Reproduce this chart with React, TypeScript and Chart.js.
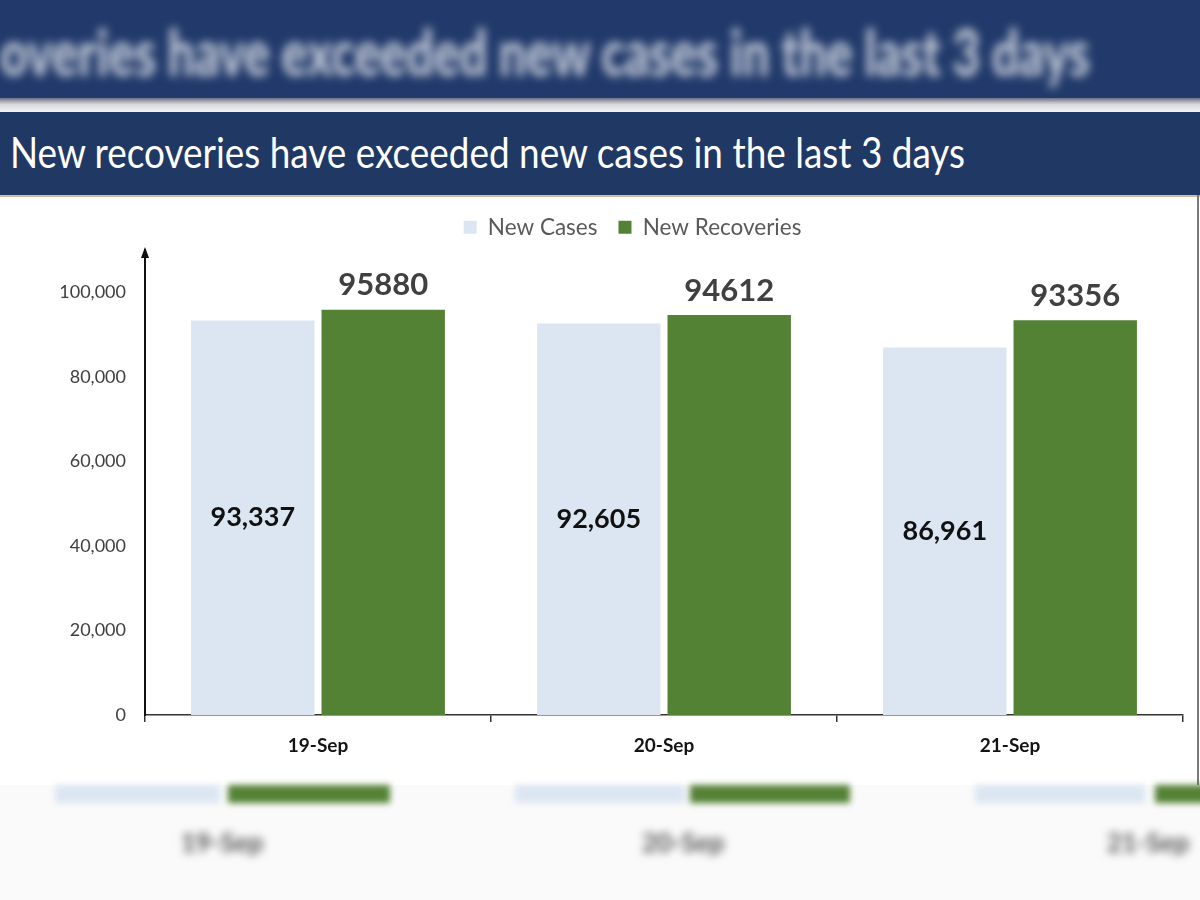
import React, { useEffect, useRef } from "react";
import { Chart, registerables } from "chart.js";

Chart.register(...registerables);

const categories = ["19-Sep", "20-Sep", "21-Sep"];
const seriesNames = ["New Cases", "New Recoveries"];
const newCases = [93337, 92605, 86961];
const newRecoveries = [95880, 94612, 93356];
const yTickValues = [0, 20000, 40000, 60000, 80000, 100000];
const titleText = "New recoveries have exceeded new cases in the last 3 days";
const blurredTitleText = "overies have exceeded new cases in the last 3 days";

const CASES_COLOR = "#dce6f2";
const RECOV_COLOR = "#548235";

const valueLabels = {
  id: "valueLabels",
  afterDatasetsDraw(chart: any) {
    const ctx = chart.ctx;
    chart.data.datasets.forEach((ds: any, di: number) => {
      const meta = chart.getDatasetMeta(di);
      meta.data.forEach((bar: any, i: number) => {
        const v = ds.data[i] as number;
        const p = bar.getProps(["x", "y", "base"], true);
        ctx.save();
        ctx.textAlign = "center";
        if (di === 0) {
          ctx.font = "bold 27px Lato";
          ctx.fillStyle = "#111111";
          ctx.textBaseline = "middle";
          ctx.fillText(v.toLocaleString("en-US"), p.x, (p.y + p.base) / 2);
        } else {
          ctx.font = "bold 31px Lato";
          ctx.fillStyle = "#404040";
          ctx.textBaseline = "bottom";
          ctx.fillText(String(v), p.x, p.y - 9);
        }
        ctx.restore();
      });
    });
  },
};

const axisArrow = {
  id: "axisArrow",
  afterDraw(chart: any) {
    const ctx = chart.ctx;
    const x = chart.chartArea.left;
    const top = chart.chartArea.top;
    ctx.save();
    ctx.fillStyle = "#111";
    ctx.beginPath();
    ctx.moveTo(x, top - 3);
    ctx.lineTo(x - 4, top + 8);
    ctx.lineTo(x + 4, top + 8);
    ctx.closePath();
    ctx.fill();
    ctx.restore();
  },
};

const legendLayoutFix = {
  id: "legendLayoutFix",
  beforeLayout(chart: any) {
    const lg = chart.legend;
    if (lg && !lg.__patched) {
      const orig = lg.fit.bind(lg);
      lg.fit = function () {
        orig();
        this.height = 55;
      };
      lg.__patched = true;
    }
  },
  afterLayout(chart: any) {
    const lg = chart.legend;
    if (lg) {
      lg.left += 41;
      lg.right += 41;
    }
  },
};

function BarChart() {
  const ref = useRef<HTMLCanvasElement | null>(null);
  useEffect(() => {
    if (!ref.current) return;
    const chart = new Chart(ref.current, {
      type: "bar",
      data: {
        labels: categories,
        datasets: [
          {
            label: seriesNames[0],
            data: newCases,
            backgroundColor: CASES_COLOR,
            categoryPercentage: 0.754,
            barPercentage: 0.946,
          },
          {
            label: seriesNames[1],
            data: newRecoveries,
            backgroundColor: RECOV_COLOR,
            categoryPercentage: 0.754,
            barPercentage: 0.946,
          },
        ],
      },
      options: {
        responsive: false,
        animation: false,
        layout: { padding: { left: 0, right: 17, top: 0, bottom: 0 } },
        plugins: {
          tooltip: { enabled: false },
          legend: {
            position: "top",
            align: "center",
            labels: {
              boxWidth: 13,
              boxHeight: 13,
              padding: 21,
              color: "#595959",
              font: { family: "Lato", size: 22.5 },
            },
          },
        },
        scales: {
          x: {
            grid: {
              display: true,
              drawOnChartArea: false,
              drawTicks: true,
              tickLength: 7,
              color: "#333",
              lineWidth: 1.5,
              offset: true,
            },
            border: { display: true, color: "#333", width: 1.5 },
            ticks: {
              color: "#141414",
              padding: 12,
              font: { family: "Lato", size: 19, weight: "bold" },
            },
            afterFit(scale: any) {
              scale.height = 70;
            },
          },
          y: {
            min: 0,
            max: 110000,
            grid: { display: false },
            border: { display: true, color: "#111", width: 2 },
            ticks: {
              padding: 11,
              autoSkip: false,
              color: "#404040",
              font: { family: "Lato", size: 18 },
              callback: (v: any) => Number(v).toLocaleString("en-US"),
            },
            afterBuildTicks(scale: any) {
              scale.ticks = yTickValues.map((v) => ({ value: v }));
            },
            afterFit(scale: any) {
              scale.width = 145;
            },
          },
        },
      },
      plugins: [legendLayoutFix, valueLabels, axisArrow],
    } as any);
    return () => chart.destroy();
  }, []);
  return (
    <canvas
      ref={ref}
      width={1200}
      height={590}
      style={{ position: "absolute", left: 0, top: 195, width: 1200, height: 590 }}
    />
  );
}

const blurBars = [
  { x: 55, w: 165, c: CASES_COLOR },
  { x: 228, w: 162, c: RECOV_COLOR },
  { x: 515, w: 170, c: CASES_COLOR },
  { x: 690, w: 160, c: RECOV_COLOR },
  { x: 975, w: 170, c: CASES_COLOR },
  { x: 1155, w: 60, c: RECOV_COLOR },
];
const blurLabelX = [222, 683, 1148];

export default function App() {
  return (
    <div
      style={{
        position: "absolute",
        left: 0,
        top: 0,
        width: 1200,
        height: 900,
        overflow: "hidden",
        background: "#ffffff",
        fontFamily: "Lato, sans-serif",
      }}
    >
      {/* blurred background band */}
      <div style={{ position: "absolute", left: 0, top: 0, width: 1200, height: 100, background: "#213a6b" }} />
      <svg
        width={1200}
        height={100}
        style={{ position: "absolute", left: 0, top: 0, filter: "blur(5px)" }}
      >
        <text
          x={0}
          y={76}
          textLength={1090}
          lengthAdjust="spacingAndGlyphs"
          fill="#c4cad8"
          style={{ fontFamily: "Lato", fontWeight: 900, fontSize: 64 }}
        >
          {blurredTitleText}
        </text>
      </svg>
      <div
        style={{
          position: "absolute",
          left: 0,
          top: 98,
          width: 1200,
          height: 14,
          background: "linear-gradient(#6c7284, #d8d8dc 45%, #f4f4f4)",
        }}
      />
      {/* title band */}
      <div style={{ position: "absolute", left: 0, top: 112, width: 1200, height: 83, background: "#1f3864" }} />
      <svg width={1200} height={83} style={{ position: "absolute", left: 0, top: 112 }}>
        <text
          x={10}
          y={56}
          textLength={955}
          lengthAdjust="spacingAndGlyphs"
          fill="#ffffff"
          style={{ fontFamily: "Lato", fontSize: 42 }}
        >
          {titleText}
        </text>
      </svg>
      <div style={{ position: "absolute", left: 0, top: 195, width: 1200, height: 2, background: "#d9b89c" }} />
      <div style={{ position: "absolute", left: 1197, top: 195, width: 2, height: 600, background: "#7a7a7a" }} />

      {/* blurred bottom strip */}
      <div style={{ position: "absolute", left: 0, top: 785, width: 1200, height: 115, background: "#fafafa" }} />
      {blurBars.map((b, i) => (
        <div
          key={i}
          style={{
            position: "absolute",
            left: b.x,
            top: 785,
            width: b.w,
            height: 18,
            background: b.c,
            filter: "blur(3px)",
          }}
        />
      ))}
      {blurLabelX.map((x, i) => (
        <div
          key={i}
          style={{
            position: "absolute",
            left: x - 60,
            width: 120,
            top: 826,
            textAlign: "center",
            fontSize: 26,
            fontWeight: 700,
            color: "#555",
            filter: "blur(4px)",
          }}
        >
          {categories[i]}
        </div>
      ))}

      <BarChart />
    </div>
  );
}
